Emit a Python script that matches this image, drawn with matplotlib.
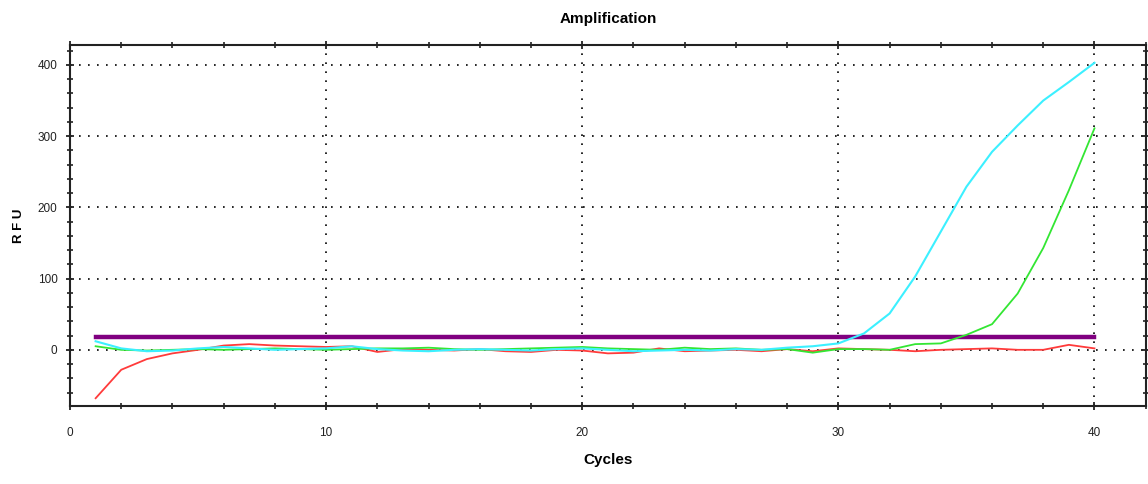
import numpy as np
import matplotlib.pyplot as plt
from matplotlib.ticker import MultipleLocator

plt.rcParams['font.family'] = ['Liberation Sans Narrow', 'Liberation Sans', 'DejaVu Sans']

cycles = np.arange(1, 41)

red = [-68, -28, -13, -5, 0, 6, 8, 6, 5, 4, 5, -3, 1, 0, -1, 1, -2, -3, 0, -1,
       -5, -4, 2, -2, -1, 0, -2, 1, -2, 2, 1, 0, -2, 0, 1, 2, 0, 0, 7, 2]
cyan = [12, 2, -2, -1, 2, 4, 2, 0, 1, 2, 5, 1, -1, -2, 0, 1, 0, -1, 1, 2,
        0, -2, -1, 0, -1, 1, 0, 3, 5, 9, 23, 51, 103, 166, 229, 278, 315, 350, 376, 403]
green = [5, 0, -1, 0, 1, 0, 1, 2, 1, 0, 1, 2, 2, 3, 1, 0, 1, 2, 3, 4,
         2, 1, 0, 3, 1, 2, 0, 1, -4, 1, 1, 0, 8, 9, 21, 36, 79, 143, 224, 311]
threshold = 18

fig = plt.figure(figsize=(11.48, 4.84), dpi=100)
ax = fig.add_axes([0.061, 0.161, 0.937, 0.746])

ax.plot(cycles, threshold * np.ones(len(cycles)), color='#800080', lw=3.2, zorder=2)
ax.plot(cycles, red, color='#ff3b3b', lw=1.3, zorder=3)
ax.plot(cycles, green, color='#33e633', lw=1.3, zorder=3)
ax.plot(cycles, cyan, color='#3cf0ff', lw=1.5, zorder=3)

ax.set_xlim(0, 42)
ax.set_ylim(-79, 428)
ax.xaxis.set_major_locator(MultipleLocator(10))
ax.xaxis.set_minor_locator(MultipleLocator(2))
ax.yaxis.set_major_locator(MultipleLocator(100))
ax.yaxis.set_minor_locator(MultipleLocator(20))

ax.grid(which='major', color='black', ls=(0, (1, 4.4)), lw=1.2)
ax.tick_params(which='both', direction='inout', top=True, right=True,
               labelsize=8.5, colors='#222222')
ax.tick_params(which='major', length=6, width=1.3)
ax.tick_params(which='minor', length=4, width=1.2)
ax.tick_params(axis='x', which='major', pad=12)
ax.tick_params(axis='y', which='major', pad=6)
for s in ax.spines.values():
    s.set_linewidth(1.5)
    s.set_color('#222222')

ax.set_title('Amplification', fontsize=11, fontweight='bold', pad=16)
ax.set_xlabel('Cycles', fontsize=11, fontweight='bold', labelpad=10)
ax.set_ylabel('R F U', fontsize=9.5, fontweight='bold', labelpad=9)

fig.savefig('out.png', dpi=100)
